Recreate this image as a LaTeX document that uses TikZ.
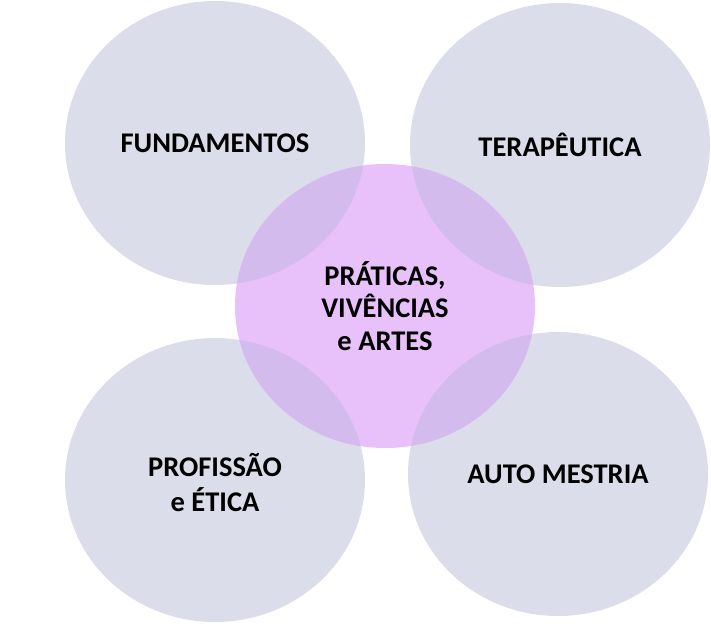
\documentclass[tikz,border=0pt]{standalone}
\usepackage{fontspec}
\setmainfont{Carlito}
\usetikzlibrary{shapes.geometric}
\definecolor{petalgray}{HTML}{DCDDEA}
\definecolor{corepink}{HTML}{E8C1FB}
\definecolor{overlapviolet}{HTML}{D4BBEE}
\tikzset{
  petal/.style={ellipse, fill=petalgray, minimum width=300pt, minimum height=284pt, inner sep=0pt},
  core/.style={petal, fill=corepink},
  label/.style={font=\bfseries\fontsize{28.5}{32.5}\selectfont, align=center}
}

\begin{document}
\begin{tikzpicture}[x=1pt, y=-1pt]
  \useasboundingbox (0,0) rectangle (711,640);
  \node[petal] (fund) at (215,143) {};
  \node[petal] (tera) at (560,145) {};
  \node[petal] (prof) at (215,480) {};
  \node[petal] (auto) at (558,474) {};
  \node[core] (prat) at (385,306) {};
  % overlaps of the core with each petal
  \foreach \p in {fund,tera,prof,auto} {
    \begin{scope}
      \clip (prat.center) ellipse [x radius=150pt, y radius=142pt];
      \fill[overlapviolet] (\p.center) ellipse [x radius=150pt, y radius=142pt];
    \end{scope}
  }
  \node[label] (fundtxt) at (fund.center) {FUNDAMENTOS};
  \node[label] (teratxt) at (tera.center) {TERAPÊUTICA};
  \node[label] (prattxt) at (prat.center) {PRÁTICAS,\\VIVÊNCIAS\\e ARTES};
  \node[label, font=\bfseries\fontsize{28.5}{35}\selectfont] (proftxt) at ([yshift=-2pt]prof.center) {PROFISSÃO\\e ÉTICA};
  \node[label] (autotxt) at (auto.center) {AUTO MESTRIA};
\end{tikzpicture}
\end{document}
